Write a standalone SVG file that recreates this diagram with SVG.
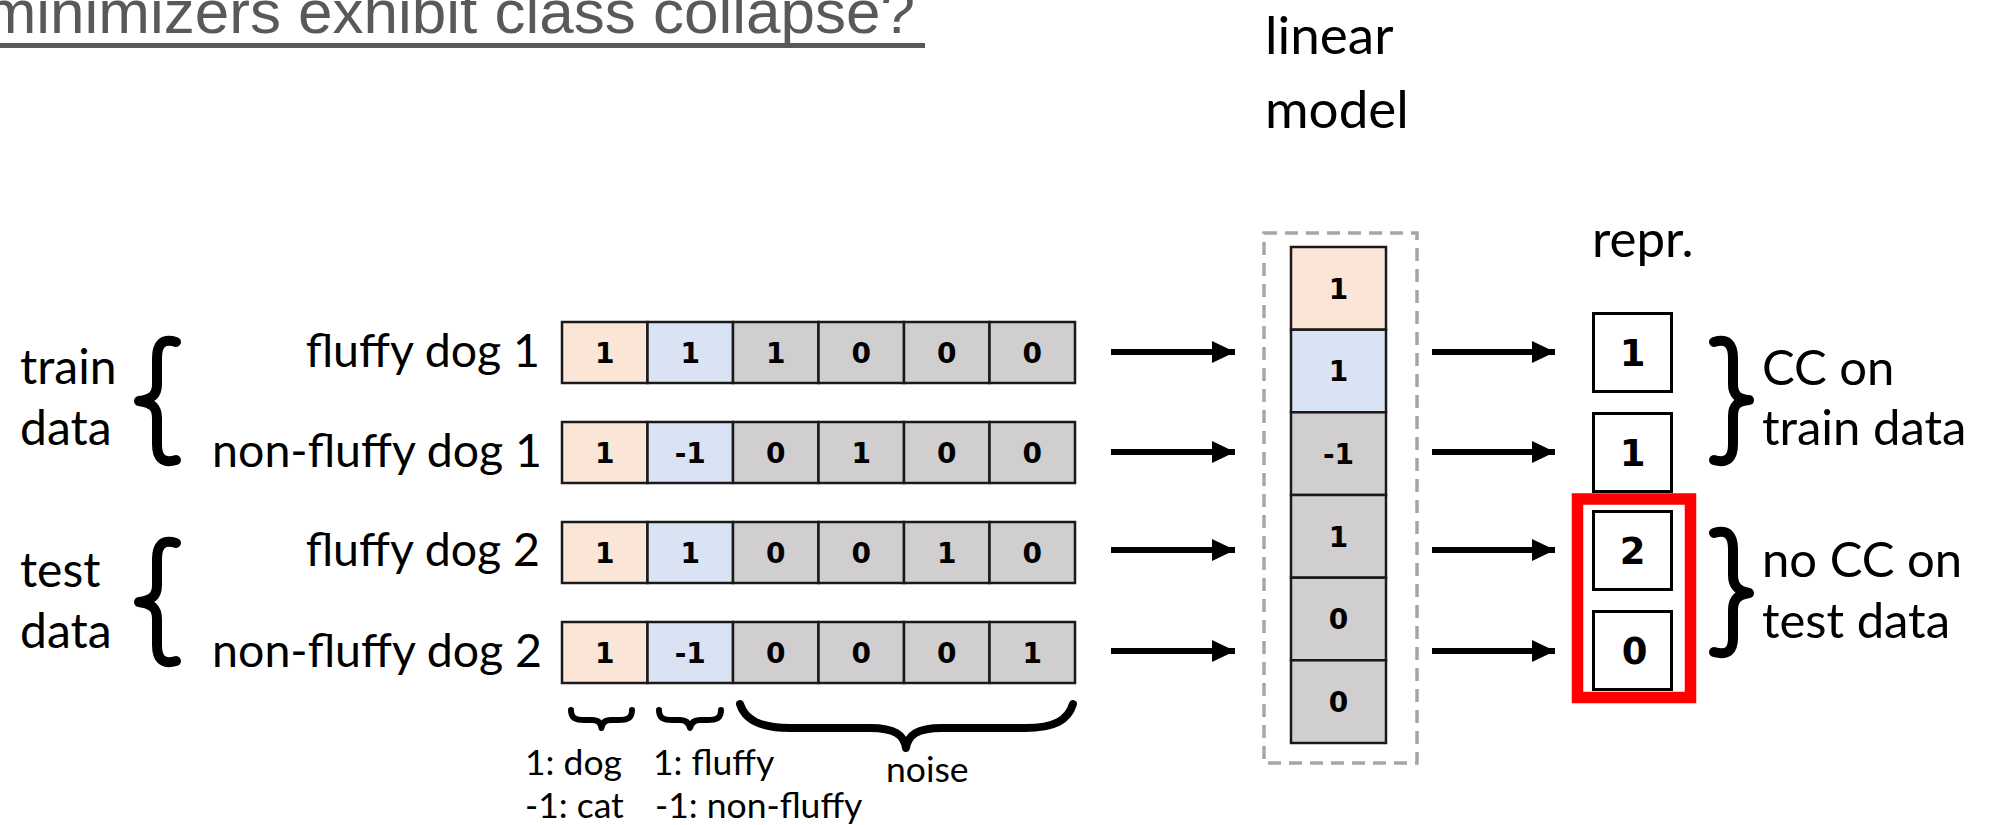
<svg xmlns="http://www.w3.org/2000/svg" width="1996" height="825" viewBox="0 0 1996 825">
  <defs>
    <marker id="arrowhead" markerUnits="userSpaceOnUse" markerWidth="24" markerHeight="24" refX="23" refY="11" orient="auto">
      <path d="M0,0 L23,11 L0,22 Z" fill="#000"/>
    </marker>
  </defs>
  <style>
    .title{font-family:"Liberation Sans",Arial,sans-serif;font-size:62px;fill:#595959}
    .lbl{font-family:Lato,"Open Sans",sans-serif;fill:#000}
    .row{font-size:46.5px;text-anchor:end}
    .side{font-size:48px}
    .outcome{font-size:49px}
    .small{font-size:35.5px}
    .num{font-family:"DejaVu Sans",Verdana,sans-serif;font-weight:bold;text-anchor:middle;fill:#000}
    .cell{stroke:#1a1a1a;stroke-width:2.5}
    .dog{fill:#FBE5D6}
    .fluffy{fill:#DAE3F3}
    .noise{fill:#D0CECE}
    .repr{fill:#fff;stroke:#000;stroke-width:3}
    .brace{fill:none;stroke:#000;stroke-linecap:round;stroke-linejoin:round}
    .conn{fill:none;stroke:#000;stroke-width:6;marker-end:url(#arrowhead)}
  </style>

  <!-- heading (upper part runs off the top edge) -->
  <g id="title">
    <text class="title" x="915" y="33" text-anchor="end">minimizers exhibit class collapse?</text>
    <rect x="0" y="43" width="925" height="5" fill="#595959"/>
  </g>

  <!-- group labels with curly braces -->
  <g id="train-group">
    <text class="lbl side" x="20" y="384">train</text>
    <text class="lbl side" x="20" y="445">data</text>
    <path class="brace" stroke-width="10" d="M176,342 C162,338 157,345 157,358 L157,384 C157,395 152,399 139,401 C152,403 157,407 157,418 L157,444 C157,457 162,464 176,460"/>
  </g>
  <g id="test-group">
    <text class="lbl side" x="20" y="587">test</text>
    <text class="lbl side" x="20" y="648">data</text>
    <path class="brace" stroke-width="10" d="M176,543 C162,539 157,546 157,559 L157,585 C157,596 152,600 139,602 C152,604 157,608 157,619 L157,645 C157,658 162,665 176,661"/>
  </g>

  <!-- input feature vectors -->
  <g id="row-fluffy-dog-1">
    <text class="lbl row" x="540" y="367">fluffy dog 1</text>
    <rect class="cell dog" x="562" y="322" width="85.5" height="61"/>
    <rect class="cell fluffy" x="647.5" y="322" width="85.5" height="61"/>
    <rect class="cell noise" x="733" y="322" width="85.5" height="61"/>
    <rect class="cell noise" x="818.5" y="322" width="85.5" height="61"/>
    <rect class="cell noise" x="904" y="322" width="85.5" height="61"/>
    <rect class="cell noise" x="989.5" y="322" width="85.5" height="61"/>
    <g class="num" font-size="28">
      <text x="604.75" y="362.5">1</text><text x="690.25" y="362.5">1</text><text x="775.75" y="362.5">1</text>
      <text x="861.25" y="362.5">0</text><text x="946.75" y="362.5">0</text><text x="1032.25" y="362.5">0</text>
    </g>
  </g>
  <g id="row-non-fluffy-dog-1">
    <text class="lbl row" x="542" y="467">non-fluffy dog 1</text>
    <rect class="cell dog" x="562" y="422" width="85.5" height="61"/>
    <rect class="cell fluffy" x="647.5" y="422" width="85.5" height="61"/>
    <rect class="cell noise" x="733" y="422" width="85.5" height="61"/>
    <rect class="cell noise" x="818.5" y="422" width="85.5" height="61"/>
    <rect class="cell noise" x="904" y="422" width="85.5" height="61"/>
    <rect class="cell noise" x="989.5" y="422" width="85.5" height="61"/>
    <g class="num" font-size="28">
      <text x="604.75" y="462.5">1</text><text x="690.25" y="462.5">-1</text><text x="775.75" y="462.5">0</text>
      <text x="861.25" y="462.5">1</text><text x="946.75" y="462.5">0</text><text x="1032.25" y="462.5">0</text>
    </g>
  </g>
  <g id="row-fluffy-dog-2">
    <text class="lbl row" x="540" y="566">fluffy dog 2</text>
    <rect class="cell dog" x="562" y="522" width="85.5" height="61"/>
    <rect class="cell fluffy" x="647.5" y="522" width="85.5" height="61"/>
    <rect class="cell noise" x="733" y="522" width="85.5" height="61"/>
    <rect class="cell noise" x="818.5" y="522" width="85.5" height="61"/>
    <rect class="cell noise" x="904" y="522" width="85.5" height="61"/>
    <rect class="cell noise" x="989.5" y="522" width="85.5" height="61"/>
    <g class="num" font-size="28">
      <text x="604.75" y="562.5">1</text><text x="690.25" y="562.5">1</text><text x="775.75" y="562.5">0</text>
      <text x="861.25" y="562.5">0</text><text x="946.75" y="562.5">1</text><text x="1032.25" y="562.5">0</text>
    </g>
  </g>
  <g id="row-non-fluffy-dog-2">
    <text class="lbl row" x="542" y="667">non-fluffy dog 2</text>
    <rect class="cell dog" x="562" y="622" width="85.5" height="61"/>
    <rect class="cell fluffy" x="647.5" y="622" width="85.5" height="61"/>
    <rect class="cell noise" x="733" y="622" width="85.5" height="61"/>
    <rect class="cell noise" x="818.5" y="622" width="85.5" height="61"/>
    <rect class="cell noise" x="904" y="622" width="85.5" height="61"/>
    <rect class="cell noise" x="989.5" y="622" width="85.5" height="61"/>
    <g class="num" font-size="28">
      <text x="604.75" y="662.5">1</text><text x="690.25" y="662.5">-1</text><text x="775.75" y="662.5">0</text>
      <text x="861.25" y="662.5">0</text><text x="946.75" y="662.5">0</text><text x="1032.25" y="662.5">1</text>
    </g>
  </g>

  <!-- feature legend under the vectors -->
  <g id="legend">
    <path class="brace" stroke-width="6" d="M571,710 C571,718 575,720 585,720 L592,720 C598,720 601,723 601.5,728 C602,723 605,720 611,720 L618,720 C628,720 632,718 632,710"/>
    <path class="brace" stroke-width="6" d="M659,710 C659,718 663,720 673,720 L680,720 C686,720 689,723 690,728 C691,723 694,720 700,720 L707,720 C717,720 721,718 721,710"/>
    <path class="brace" stroke-width="8" d="M740,704 C745,720 760,728 790,728 L870,728 C895,728 904,735 906,748 C908,735 917,728 942,728 L1025,728 C1055,728 1068,720 1073,704"/>
    <text class="lbl small" x="525" y="775">1: dog</text>
    <text class="lbl small" x="525" y="818">-1: cat</text>
    <text class="lbl small" x="653" y="775">1: fluffy</text>
    <text class="lbl small" x="655" y="818">-1: non-fluffy</text>
    <text class="lbl small" x="886" y="782">noise</text>
  </g>

  <!-- linear model weight vector -->
  <g id="linear-model">
    <text class="lbl" font-size="53" x="1265" y="54">linear</text>
    <text class="lbl" font-size="53" x="1265" y="128">model</text>
    <rect x="1264" y="233" width="153" height="530" fill="none" stroke="#A6A6A6" stroke-width="3.5" stroke-dasharray="13 8"/>
    <rect class="cell dog" x="1291" y="247" width="95" height="82.7"/>
    <rect class="cell fluffy" x="1291" y="329.7" width="95" height="82.7"/>
    <rect class="cell noise" x="1291" y="412.3" width="95" height="82.7"/>
    <rect class="cell noise" x="1291" y="495" width="95" height="82.7"/>
    <rect class="cell noise" x="1291" y="577.7" width="95" height="82.7"/>
    <rect class="cell noise" x="1291" y="660.3" width="95" height="82.7"/>
    <g class="num" font-size="28">
      <text x="1338.5" y="298.5">1</text><text x="1338.5" y="381">1</text><text x="1338.5" y="463.5">-1</text>
      <text x="1338.5" y="546.5">1</text><text x="1338.5" y="629">0</text><text x="1338.5" y="711.5">0</text>
    </g>
  </g>

  <!-- representations -->
  <g id="representations">
    <text class="lbl" font-size="51" x="1592" y="257">repr.</text>
    <rect class="repr" x="1593.5" y="313.5" width="78" height="78"/>
    <rect class="repr" x="1593.5" y="413.5" width="78" height="78"/>
    <rect class="repr" x="1593.5" y="511.5" width="78" height="78"/>
    <rect class="repr" x="1593.5" y="611.5" width="78" height="78"/>
    <g class="num" font-size="37">
      <text x="1632.5" y="366">1</text><text x="1632.5" y="466">1</text>
      <text x="1632.5" y="564">2</text><text x="1634.5" y="664">0</text>
    </g>
    <rect x="1577.5" y="499" width="113" height="198.5" fill="none" stroke="#FF0000" stroke-width="11.5"/>
  </g>

  <g id="train-outcome">
    <path class="brace" stroke-width="10" d="M1714,342 C1728,338 1733,345 1733,358 L1733,384 C1733,395 1738,399 1749,400 C1738,401 1733,405 1733,416 L1733,444 C1733,457 1728,464 1714,460"/>
    <text class="lbl outcome" x="1762" y="385">CC on</text>
    <text class="lbl outcome" x="1762" y="445">train data</text>
  </g>
  <g id="test-outcome">
    <path class="brace" stroke-width="10" d="M1714,533 C1728,529 1733,536 1733,549 L1733,575 C1733,586 1738,591 1749,593 C1738,595 1733,599 1733,610 L1733,638 C1733,650 1728,656 1714,652"/>
    <text class="lbl outcome" x="1762" y="577">no CC on</text>
    <text class="lbl outcome" x="1762" y="638">test data</text>
  </g>

  <!-- connectors -->
  <g id="connectors">
    <line class="conn" x1="1111" y1="352" x2="1235" y2="352"/>
    <line class="conn" x1="1111" y1="452" x2="1235" y2="452"/>
    <line class="conn" x1="1111" y1="550" x2="1235" y2="550"/>
    <line class="conn" x1="1111" y1="651" x2="1235" y2="651"/>
    <line class="conn" x1="1432" y1="352" x2="1555" y2="352"/>
    <line class="conn" x1="1432" y1="452" x2="1555" y2="452"/>
    <line class="conn" x1="1432" y1="550" x2="1555" y2="550"/>
    <line class="conn" x1="1432" y1="651" x2="1555" y2="651"/>
  </g>
</svg>
